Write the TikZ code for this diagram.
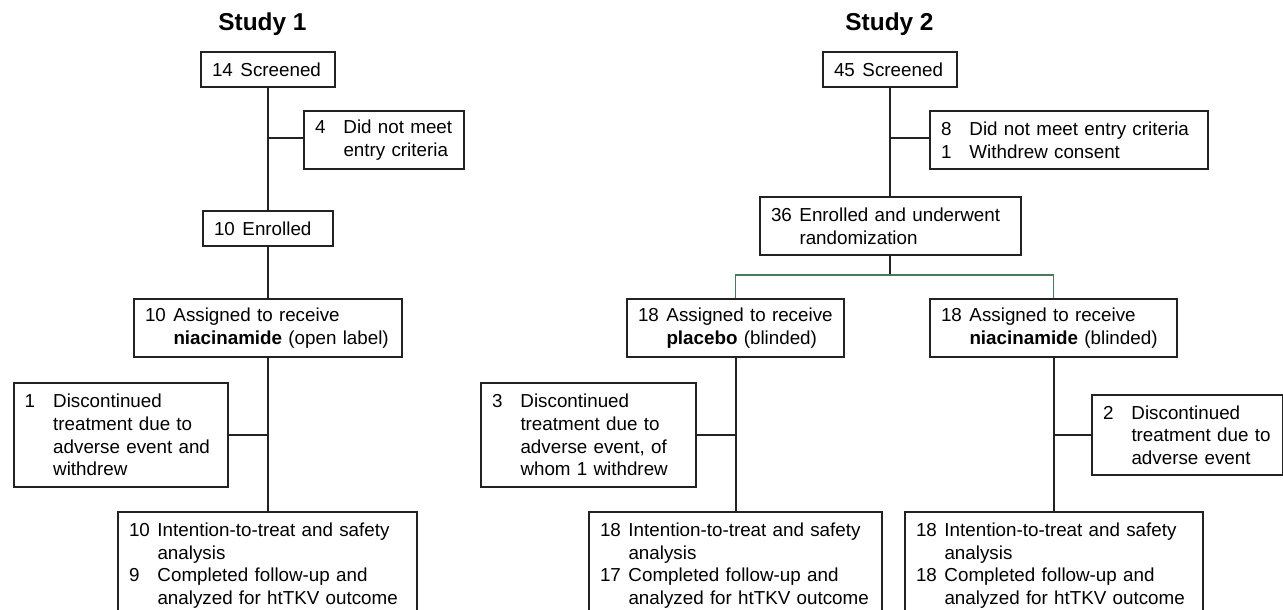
\documentclass[tikz,border=0pt]{standalone}
\usepackage{fontspec}
\setmainfont{Liberation Sans}
\definecolor{lineblk}{HTML}{222222}
\definecolor{grn}{HTML}{4A7A5A}
\newcommand{\fsz}{\fontsize{18.8}{22.6}\selectfont}
\newcommand{\rowx}[2]{\mbox{\makebox[28.5pt][l]{#1}#2}}
\begin{document}
\begin{tikzpicture}[x=1pt,y=-1pt,
  box/.style={draw=lineblk, line width=2pt, inner xsep=11pt, inner ysep=0pt,
    align=left, font=\fsz, anchor=north west},
  botbox/.style={box, inner ysep=11pt},
  ttl/.style={font=\fontsize{24.4}{28}\selectfont\bfseries, anchor=base},
  conn/.style={draw=lineblk, line width=2pt},
  gconn/.style={draw=grn, line width=1.8pt}]
\useasboundingbox (0,0) rectangle (1283,610);
\fill[white] (0,0) rectangle (1283,610);

% Study 1
\node[ttl] (t1) at (262.5,31) {Study 1};
\node[box, text width=112pt, minimum height=35pt] (A1) at (200,51) {\rowx{14}{Screened}};
\node[box, text width=138pt, minimum height=58pt] (B1) at (303,110) {\rowx{4}{Did not meet}\\\rowx{}{entry criteria}};
\node[box, text width=108pt, minimum height=35pt] (C1) at (202,210) {\rowx{10}{Enrolled}};
\node[box, text width=246pt, minimum height=58pt] (D1) at (133,298) {\rowx{10}{Assigned to receive}\\\rowx{}{\textbf{niacinamide} (open label)}};
\node[box, text width=192pt, minimum height=104pt] (E1) at (12.7,382) {\rowx{1}{Discontinued}\\\rowx{}{treatment due to}\\\rowx{}{adverse event and}\\\rowx{}{withdrew}};
\node[botbox, text width=277pt] (F1) at (117,511) {\rowx{10}{Intention-to-treat and safety}\\\rowx{}{analysis}\\\rowx{9}{Completed follow-up and}\\\rowx{}{analyzed for htTKV outcome}\\\mbox{}};

\draw[conn] (A1.south) -- (A1.south |- C1.north);
\draw[conn] (C1.south) -- (C1.south |- D1.north);
\draw[conn] (D1.south) -- (D1.south |- F1.north);
\draw[conn] ([yshift=2.5pt]B1.west) -- ([yshift=2.5pt]B1.west -| A1.south);
\draw[conn] (E1.east) -- (E1.east -| D1.south);

% Study 2
\node[ttl] (t2) at (889.5,31) {Study 2};
\node[box, text width=112pt, minimum height=35pt] (A2) at (822,51) {\rowx{45}{Screened}};
\node[box, text width=256pt, minimum height=58pt] (B2) at (929,110) {\rowx{8}{Did not meet entry criteria}\\\rowx{1}{Withdrew consent}};
\node[box, text width=239pt, minimum height=58pt] (C2) at (759,196) {\rowx{36}{Enrolled and underwent}\\\rowx{}{randomization}};
\node[box, text width=195pt, minimum height=58pt] (D2a) at (626,298) {\rowx{18}{Assigned to receive}\\\rowx{}{\textbf{placebo} (blinded)}};
\node[box, text width=225pt, minimum height=58pt] (D2b) at (929,298) {\rowx{18}{Assigned to receive}\\\rowx{}{\textbf{niacinamide} (blinded)}};
\node[box, text width=193pt, minimum height=104pt] (E2a) at (480,382) {\rowx{3}{Discontinued}\\\rowx{}{treatment due to}\\\rowx{}{adverse event, of}\\\rowx{}{whom 1 withdrew}};
\node[box, text width=168.5pt, minimum height=80pt] (E2b) at (1091,394) {\rowx{2}{Discontinued}\\\rowx{}{treatment due to}\\\rowx{}{adverse event}};
\node[botbox, text width=271pt] (F2a) at (588,511) {\rowx{18}{Intention-to-treat and safety}\\\rowx{}{analysis}\\\rowx{17}{Completed follow-up and}\\\rowx{}{analyzed for htTKV outcome}\\\mbox{}};
\node[botbox, text width=276pt] (F2b) at (904,511) {\rowx{18}{Intention-to-treat and safety}\\\rowx{}{analysis}\\\rowx{18}{Completed follow-up and}\\\rowx{}{analyzed for htTKV outcome}\\\mbox{}};

\coordinate (sp) at (A2.south |- 0,275);
\draw[conn] (A2.south) -- (A2.south |- C2.north);
\draw[conn] ([yshift=2.5pt]B2.west) -- ([yshift=2.5pt]B2.west -| A2.south);
\draw[conn] (A2.south |- C2.south) -- (sp);
\draw[gconn] (D2a.north) |- (sp) -| (D2b.north);
\draw[conn] (D2a.south) -- (D2a.south |- F2a.north);
\draw[conn] (D2b.south) -- (D2b.south |- F2b.north);
\draw[conn] (E2a.east) -- (E2a.east -| D2a.south);
\draw[conn] (E2b.west) -- (E2b.west -| D2b.south);
\end{tikzpicture}
\end{document}
